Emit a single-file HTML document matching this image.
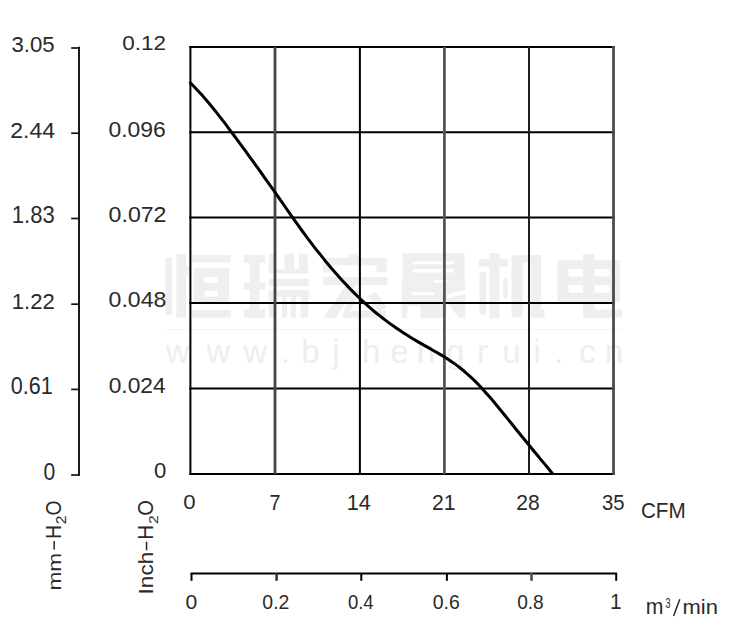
<!DOCTYPE html>
<html><head><meta charset="utf-8">
<style>
html,body{margin:0;padding:0;background:#fff;width:750px;height:637px;overflow:hidden}
svg{display:block}
text{font-family:"Liberation Sans",sans-serif;fill:#2a2a2a}
</style></head>
<body>
<svg width="750" height="637" viewBox="0 0 750 637">
<rect width="750" height="637" fill="#fff"/>
<g fill="#efefef"><rect x="165.2" y="257.3" width="7.0" height="58.0" rx="2"/><rect x="176.3" y="253.8" width="9.8" height="63.9" rx="0"/><rect x="186.1" y="266" width="2.4" height="9.0" rx="0"/><rect x="191.9" y="255" width="38.9" height="7.5" rx="0"/><rect x="192" y="310" width="38.8" height="7.7" rx="0"/><path fill-rule="evenodd" d="M193.7,267.7 H229.1 V302.6 H193.7 Z M204.7,277 H218 V282.8 H204.7 Z M204.7,291 H218 V296.8 H204.7 Z"/><rect x="243.8" y="255" width="21.5" height="8.1" rx="0"/><rect x="243.8" y="282.3" width="21.5" height="7.5" rx="0"/><rect x="249.6" y="255" width="9.9" height="62.7" rx="0"/><rect x="243.8" y="309.5" width="21.5" height="8.2" rx="0"/><rect x="268.8" y="253.8" width="7.5" height="19.7" rx="0"/><rect x="284.5" y="253.8" width="9.5" height="19.7" rx="0"/><rect x="299" y="253.8" width="8.7" height="19.7" rx="0"/><rect x="268.8" y="268.9" width="38.9" height="4.6" rx="2"/><rect x="268.8" y="278.8" width="40.0" height="7.5" rx="0"/><rect x="268.8" y="290.4" width="40.0" height="6.4" rx="0"/><rect x="268.8" y="290.4" width="7.5" height="27.3" rx="0"/><rect x="282" y="290.4" width="5.0" height="27.3" rx="0"/><rect x="290.5" y="290.4" width="5.5" height="27.3" rx="0"/><rect x="300.7" y="290.4" width="7.6" height="27.3" rx="0"/><rect x="348.5" y="253.8" width="9.3" height="6.2" rx="0"/><rect x="323" y="257.9" width="63.8" height="7.5" rx="0"/><rect x="323" y="257.9" width="8.0" height="14.5" rx="0"/><rect x="376.5" y="257.9" width="10.3" height="14.5" rx="0"/><rect x="323" y="277" width="64.4" height="8.2" rx="0"/><path d="M346,285 L356,285 L336,317.7 L323.5,317.7 Z"/><path d="M351,290 L361,290 L350,310.7 L386,310.7 L386,317.7 L342,317.7 Z"/><path d="M368,296 L376,292 L387,308 L378,312 Z"/><path fill-rule="evenodd" d="M402.4,253.2 H464.5 V282.8 H402.4 Z M412.8,261.4 H453.5 V264.3 H412.8 Z M412.8,268.9 H453.5 V272.4 H412.8 Z M434,280.2 H446.6 V282.8 H434 Z"/><path fill-rule="evenodd" d="M401.7,282.7 H465.2 V318 H401.7 Z M411.5,292 H434 V295.3 H411.5 Z M407.3,306 H420.4 V318 H407.3 Z M446.6,302 L459,318 H446.6 Z M446.6,294.5 L465.2,290 V294 L446.6,298.5 Z"/><rect x="479" y="259" width="29.0" height="7.6" rx="0"/><rect x="489.4" y="253.2" width="9.9" height="65.0" rx="0"/><rect x="479.5" y="271.8" width="6.5" height="43.0" rx="3"/><ellipse cx="505.4" cy="288.5" rx="2.6" ry="11.5"/><rect x="511.5" y="255" width="11.0" height="62.7" rx="4"/><rect x="511.5" y="255" width="29.6" height="7.5" rx="4"/><rect x="530.6" y="255" width="10.5" height="62.0" rx="0"/><rect x="530.6" y="309.5" width="13.9" height="8.2" rx="0"/><rect x="583.1" y="253.8" width="11.6" height="7.2" rx="0"/><path fill-rule="evenodd" d="M557.5,260.2 H620.2 V302 H557.5 Z M568.6,268.9 H583.1 V276.4 H568.6 Z M594.7,268.9 H609.2 V276.4 H594.7 Z M568.6,285.2 H583.1 V292.7 H568.6 Z M594.7,285.2 H609.2 V292.7 H594.7 Z"/><rect x="583.1" y="302" width="11.6" height="15.7" rx="0"/><rect x="583.1" y="309.5" width="39.5" height="8.2" rx="3"/></g>
<g font-size="33" text-anchor="middle"><text x="177.6" y="363.4" style="fill:#eeeeee">w</text><text x="218.4" y="363.4" style="fill:#eeeeee">w</text><text x="255.2" y="363.4" style="fill:#eeeeee">w</text><text x="285.6" y="363.4" style="fill:#eeeeee">.</text><text x="310.4" y="363.4" style="fill:#eeeeee">b</text><text x="336" y="363.4" style="fill:#eeeeee">j</text><text x="371.2" y="363.4" style="fill:#eeeeee">h</text><text x="399.5" y="363.4" style="fill:#eeeeee">e</text><text x="426" y="363.4" style="fill:#eeeeee">n</text><text x="455.5" y="363.4" style="fill:#eeeeee">g</text><text x="482.5" y="363.4" style="fill:#eeeeee">r</text><text x="511.5" y="363.4" style="fill:#eeeeee">u</text><text x="537" y="363.4" style="fill:#eeeeee">i</text><text x="558.5" y="363.4" style="fill:#eeeeee">.</text><text x="587.5" y="363.4" style="fill:#eeeeee">c</text><text x="614" y="363.4" style="fill:#eeeeee">n</text></g><line x1="166" y1="329.5" x2="622" y2="329.5" stroke="#f4f4f4" stroke-width="1"/>
<g fill="none" stroke-linecap="butt">
<line x1="189.4" y1="47.0" x2="614.9" y2="47.0" stroke="#000" stroke-width="2"/><line x1="189.4" y1="132.2" x2="614.9" y2="132.2" stroke="#000" stroke-width="2"/><line x1="189.4" y1="217.6" x2="614.9" y2="217.6" stroke="#000" stroke-width="2"/><line x1="189.4" y1="303.0" x2="614.9" y2="303.0" stroke="#000" stroke-width="2"/><line x1="189.4" y1="388.4" x2="614.9" y2="388.4" stroke="#000" stroke-width="2"/><line x1="189.4" y1="473.9" x2="614.9" y2="473.9" stroke="#000" stroke-width="2"/><line x1="190.4" y1="46" x2="190.4" y2="474.9" stroke="#000" stroke-width="2"/><line x1="275.0" y1="47" x2="275.0" y2="474" stroke="#454545" stroke-width="2.8"/><line x1="359.9" y1="47" x2="359.9" y2="474" stroke="#000" stroke-width="2"/><line x1="444.4" y1="47" x2="444.4" y2="474" stroke="#555" stroke-width="2.8"/><line x1="529.0" y1="47" x2="529.0" y2="474" stroke="#1e1e1e" stroke-width="2"/><line x1="613.5" y1="46" x2="613.5" y2="474.9" stroke="#4c4c4c" stroke-width="2.8"/>
<line x1="79.0" y1="46.8" x2="79.0" y2="475.8" stroke="#000" stroke-width="1.8"/><line x1="71.2" y1="48.0" x2="79.9" y2="48.0" stroke="#111" stroke-width="1.7"/><line x1="71.2" y1="133.2" x2="79.9" y2="133.2" stroke="#111" stroke-width="1.7"/><line x1="71.2" y1="218.5" x2="79.9" y2="218.5" stroke="#111" stroke-width="1.7"/><line x1="71.2" y1="304.2" x2="79.9" y2="304.2" stroke="#111" stroke-width="1.7"/><line x1="71.2" y1="389.4" x2="79.9" y2="389.4" stroke="#111" stroke-width="1.7"/><line x1="71.2" y1="475.0" x2="79.9" y2="475.0" stroke="#111" stroke-width="1.7"/>
<line x1="190.6" y1="573.6" x2="617.0" y2="573.6" stroke="#000" stroke-width="2"/><line x1="191.5" y1="573" x2="191.5" y2="580.8" stroke="#000" stroke-width="2"/><line x1="276.6" y1="573" x2="276.6" y2="580.8" stroke="#2a2a2a" stroke-width="2.4"/><line x1="361.3" y1="573" x2="361.3" y2="580.8" stroke="#000" stroke-width="2"/><line x1="446.9" y1="573" x2="446.9" y2="580.8" stroke="#000" stroke-width="2"/><line x1="531.5" y1="573" x2="531.5" y2="580.8" stroke="#505050" stroke-width="2.6"/><line x1="616.2" y1="573" x2="616.2" y2="580.8" stroke="#000" stroke-width="2"/>
</g>
<path d="M190.4,82.8 C191.4,83.9 194.5,87.0 196.5,89.2 C198.6,91.4 200.6,93.6 202.7,95.9 C204.7,98.3 206.8,100.6 208.8,103.0 C210.8,105.5 212.9,108.0 214.9,110.5 C217.0,113.0 219.0,115.7 221.1,118.3 C223.1,120.9 225.1,123.6 227.2,126.3 C229.2,129.1 231.3,131.8 233.3,134.5 C235.4,137.3 237.4,140.1 239.5,142.8 C241.5,145.6 243.5,148.4 245.6,151.2 C247.6,154.0 249.7,156.8 251.7,159.7 C253.8,162.5 255.8,165.3 257.9,168.2 C259.9,171.0 261.9,173.9 264.0,176.8 C266.0,179.7 268.1,182.5 270.1,185.4 C272.2,188.3 274.2,191.2 276.3,194.1 C278.3,197.0 280.3,200.0 282.4,202.9 C284.4,205.8 286.5,208.7 288.5,211.6 C290.6,214.6 292.6,217.5 294.6,220.4 C296.7,223.3 298.7,226.1 300.8,229.0 C302.8,231.8 304.9,234.6 306.9,237.3 C309.0,240.0 311.0,242.7 313.0,245.4 C315.1,248.1 317.1,250.7 319.2,253.2 C321.2,255.8 323.3,258.4 325.3,260.9 C327.4,263.3 329.4,265.8 331.4,268.2 C333.5,270.6 335.5,273.0 337.6,275.3 C339.6,277.6 341.7,279.8 343.7,282.1 C345.7,284.3 347.8,286.4 349.8,288.5 C351.9,290.6 353.9,292.7 356.0,294.7 C358.0,296.7 360.1,298.7 362.1,300.6 C364.1,302.5 366.2,304.4 368.2,306.2 C370.3,308.0 372.3,309.7 374.4,311.5 C376.4,313.2 378.5,314.8 380.5,316.4 C382.5,318.1 384.6,319.6 386.6,321.1 C388.7,322.7 390.7,324.2 392.8,325.6 C394.8,327.0 396.9,328.4 398.9,329.8 C400.9,331.2 403.0,332.5 405.0,333.8 C407.1,335.1 409.1,336.4 411.2,337.7 C413.2,338.9 415.2,340.1 417.3,341.4 C419.3,342.6 421.4,343.7 423.4,344.9 C425.5,346.1 427.5,347.2 429.6,348.4 C431.6,349.5 433.6,350.7 435.7,351.8 C437.7,353.0 439.8,354.2 441.8,355.4 C443.9,356.7 445.9,357.9 448.0,359.2 C450.0,360.6 452.0,361.9 454.1,363.4 C456.1,364.8 458.2,366.4 460.2,368.0 C462.3,369.6 464.3,371.3 466.3,373.1 C468.4,374.9 470.4,376.8 472.5,378.7 C474.5,380.7 476.6,382.7 478.6,384.8 C480.7,387.0 482.7,389.2 484.7,391.4 C486.8,393.7 488.8,396.0 490.9,398.4 C492.9,400.8 495.0,403.3 497.0,405.7 C499.1,408.2 501.1,410.7 503.1,413.2 C505.2,415.8 507.2,418.3 509.3,420.9 C511.3,423.4 513.4,425.9 515.4,428.5 C517.5,431.0 519.5,433.5 521.5,436.0 C523.6,438.5 525.6,441.0 527.7,443.5 C529.7,446.0 531.8,448.5 533.8,451.0 C535.8,453.4 537.9,455.9 539.9,458.4 C542.0,460.8 544.0,463.3 546.1,465.8 C548.1,468.3 551.2,472.0 552.2,473.2" stroke="#000" stroke-width="3.0" fill="none" stroke-linejoin="round" stroke-linecap="round"/>
<text x="11.46" y="52.49" font-size="21.75" textLength="43.18" lengthAdjust="spacingAndGlyphs">3.05</text>
<text x="10.34" y="138.20" font-size="22.77" textLength="44.73" lengthAdjust="spacingAndGlyphs">2.44</text>
<text x="11.82" y="223.47" font-size="23.16" textLength="42.84" lengthAdjust="spacingAndGlyphs">1.83</text>
<text x="11.82" y="309.20" font-size="22.77" textLength="42.99" lengthAdjust="spacingAndGlyphs">1.22</text>
<text x="10.66" y="394.47" font-size="23.16" textLength="42.10" lengthAdjust="spacingAndGlyphs">0.61</text>
<text x="43.47" y="479.97" font-size="23.16" textLength="11.75" lengthAdjust="spacingAndGlyphs">0</text>
<text x="122.32" y="50.29" font-size="21.04" textLength="43.81" lengthAdjust="spacingAndGlyphs">0.12</text>
<text x="108.41" y="136.99" font-size="21.75" textLength="57.30" lengthAdjust="spacingAndGlyphs">0.096</text>
<text x="108.60" y="222.49" font-size="21.75" textLength="57.87" lengthAdjust="spacingAndGlyphs">0.072</text>
<text x="108.60" y="307.49" font-size="21.75" textLength="57.70" lengthAdjust="spacingAndGlyphs">0.048</text>
<text x="108.71" y="393.49" font-size="21.75" textLength="56.96" lengthAdjust="spacingAndGlyphs">0.024</text>
<text x="154.13" y="478.49" font-size="21.75" textLength="12.33" lengthAdjust="spacingAndGlyphs">0</text>
<text x="183.23" y="509.29" font-size="21.04" textLength="12.33" lengthAdjust="spacingAndGlyphs">0</text>
<text x="269.48" y="509.70" font-size="22.38" textLength="11.01" lengthAdjust="spacingAndGlyphs">7</text>
<text x="346.65" y="510.00" font-size="21.95" textLength="24.08" lengthAdjust="spacingAndGlyphs">14</text>
<text x="432.03" y="510.00" font-size="21.63" textLength="23.60" lengthAdjust="spacingAndGlyphs">21</text>
<text x="516.34" y="509.79" font-size="21.33" textLength="23.37" lengthAdjust="spacingAndGlyphs">28</text>
<text x="602.03" y="509.79" font-size="21.33" textLength="22.52" lengthAdjust="spacingAndGlyphs">35</text>
<text x="640.95" y="517.88" font-size="22.03" textLength="44.74" lengthAdjust="spacingAndGlyphs">CFM</text>
<text x="185.47" y="608.81" font-size="19.77" textLength="11.75" lengthAdjust="spacingAndGlyphs">0</text>
<text x="262.34" y="609.00" font-size="20.34" textLength="27.04" lengthAdjust="spacingAndGlyphs">0.2</text>
<text x="347.88" y="608.80" font-size="20.34" textLength="25.66" lengthAdjust="spacingAndGlyphs">0.4</text>
<text x="432.74" y="608.80" font-size="20.34" textLength="27.01" lengthAdjust="spacingAndGlyphs">0.6</text>
<text x="517.15" y="609.00" font-size="20.62" textLength="26.58" lengthAdjust="spacingAndGlyphs">0.8</text>
<text x="610.11" y="609.30" font-size="21.80" textLength="11.61" lengthAdjust="spacingAndGlyphs">1</text>
<text x="645.79" y="613.70" font-size="21.74" textLength="17.71" lengthAdjust="spacingAndGlyphs">m</text>
<text x="665.55" y="607.66" font-size="14.12" textLength="5.04" lengthAdjust="spacingAndGlyphs">3</text>
<text x="682.54" y="613.70" font-size="19.87" textLength="35.38" lengthAdjust="spacingAndGlyphs">min</text>
<line x1="679.8" y1="599.2" x2="673.6" y2="616" stroke="#2a2a2a" stroke-width="1.5"/>
<g transform="translate(61,589.5) rotate(-90)"><text x="-1.00" y="-0.30" font-size="18.58" textLength="37.69" lengthAdjust="spacingAndGlyphs">mm</text><rect x="39.9" y="-7.6" width="8.6" height="1.5" fill="#2a2a2a"/><text x="50.74" y="-0.30" font-size="22.09" textLength="13.70" lengthAdjust="spacingAndGlyphs">H</text><text x="65.32" y="5.30" font-size="14.89" textLength="8.67" lengthAdjust="spacingAndGlyphs">2</text><text x="73.88" y="-0.21" font-size="21.89" textLength="15.04" lengthAdjust="spacingAndGlyphs">O</text></g>
<g transform="translate(153.4,592.8) rotate(-90)"><text x="-1.58" y="-0.50" font-size="20.29" textLength="42.54" lengthAdjust="spacingAndGlyphs">Inch</text><rect x="42.5" y="-7.6" width="8.6" height="1.5" fill="#2a2a2a"/><text x="53.11" y="-0.30" font-size="21.66" textLength="14.87" lengthAdjust="spacingAndGlyphs">H</text><text x="68.72" y="4.90" font-size="12.89" textLength="8.67" lengthAdjust="spacingAndGlyphs">2</text><text x="77.15" y="-0.21" font-size="21.47" textLength="15.61" lengthAdjust="spacingAndGlyphs">O</text></g>
</svg>
</body></html>
